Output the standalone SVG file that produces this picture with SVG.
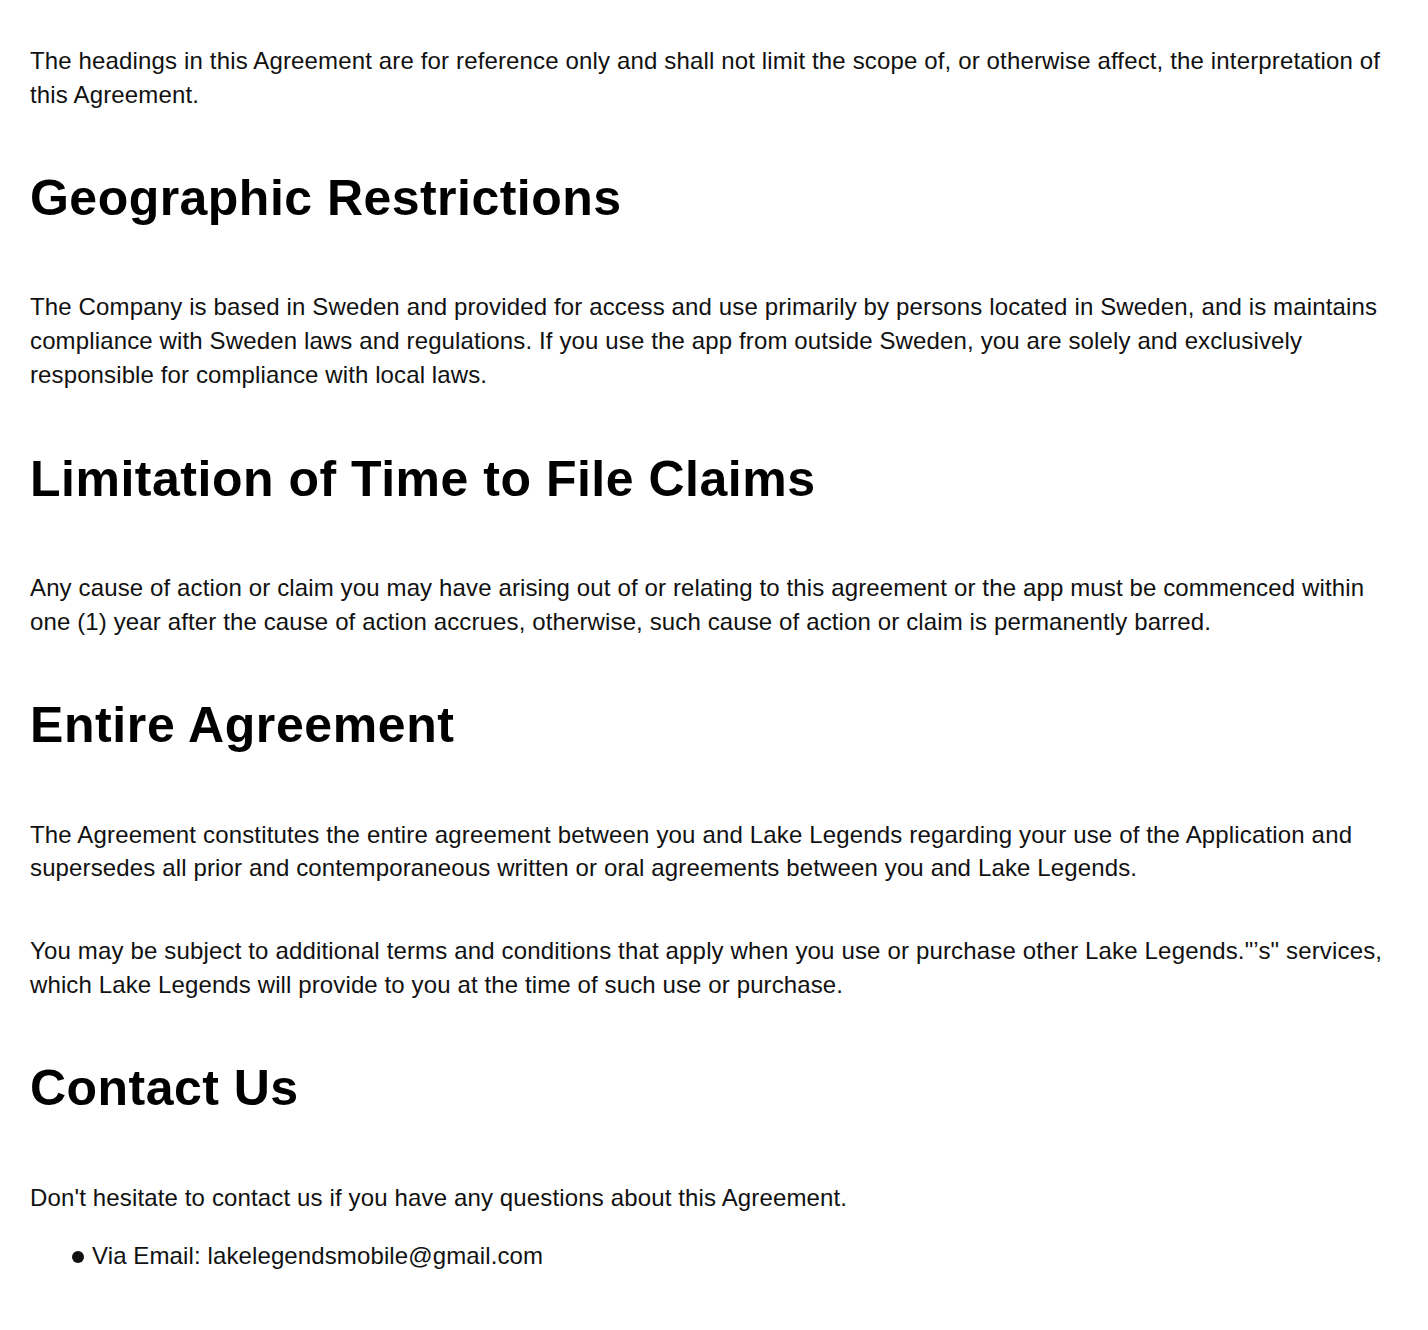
<svg xmlns="http://www.w3.org/2000/svg" width="1428" height="1330" viewBox="0 0 1428 1330">
<style>
.b{font-family:"Liberation Sans",Arial,Helvetica,sans-serif;font-size:24px;fill:#111}
.h{font-family:"Liberation Sans",Arial,Helvetica,sans-serif;font-size:50px;font-weight:bold;fill:#000}
</style>
<rect width="1428" height="1330" fill="#fff"/>
<g id="intro">
<text class="b" x="30" y="69" textLength="1350">The headings in this Agreement are for reference only and shall not limit the scope of, or otherwise affect, the interpretation of</text>
<text class="b" x="30" y="103" textLength="169">this Agreement.</text>
</g>
<g id="geographic">
<text class="h" x="30" y="215" textLength="591">Geographic Restrictions</text>
<text class="b" x="30" y="315" textLength="1347">The Company is based in Sweden and provided for access and use primarily by persons located in Sweden, and is maintains</text>
<text class="b" x="30" y="349" textLength="1272">compliance with Sweden laws and regulations. If you use the app from outside Sweden, you are solely and exclusively</text>
<text class="b" x="30" y="383" textLength="457">responsible for compliance with local laws.</text>
</g>
<g id="limitation">
<text class="h" x="30" y="496" textLength="785">Limitation of Time to File Claims</text>
<text class="b" x="30" y="596" textLength="1334">Any cause of action or claim you may have arising out of or relating to this agreement or the app must be commenced within</text>
<text class="b" x="30" y="630" textLength="1181">one (1) year after the cause of action accrues, otherwise, such cause of action or claim is permanently barred.</text>
</g>
<g id="entire">
<text class="h" x="30" y="742" textLength="424">Entire Agreement</text>
<text class="b" x="30" y="843" textLength="1322">The Agreement constitutes the entire agreement between you and Lake Legends regarding your use of the Application and</text>
<text class="b" x="30" y="876" textLength="1107">supersedes all prior and contemporaneous written or oral agreements between you and Lake Legends.</text>
<text class="b" x="30" y="959" textLength="1352">You may be subject to additional terms and conditions that apply when you use or purchase other Lake Legends."’s" services,</text>
<text class="b" x="30" y="993" textLength="813">which Lake Legends will provide to you at the time of such use or purchase.</text>
</g>
<g id="contact">
<text class="h" x="30" y="1105" textLength="268">Contact Us</text>
<text class="b" x="30" y="1206" textLength="817">Don't hesitate to contact us if you have any questions about this Agreement.</text>
<circle cx="78" cy="1257" r="6" fill="#111"/>
<text class="b" x="92" y="1264" textLength="451">Via Email: lakelegendsmobile@gmail.com</text>
</g>
</svg>
